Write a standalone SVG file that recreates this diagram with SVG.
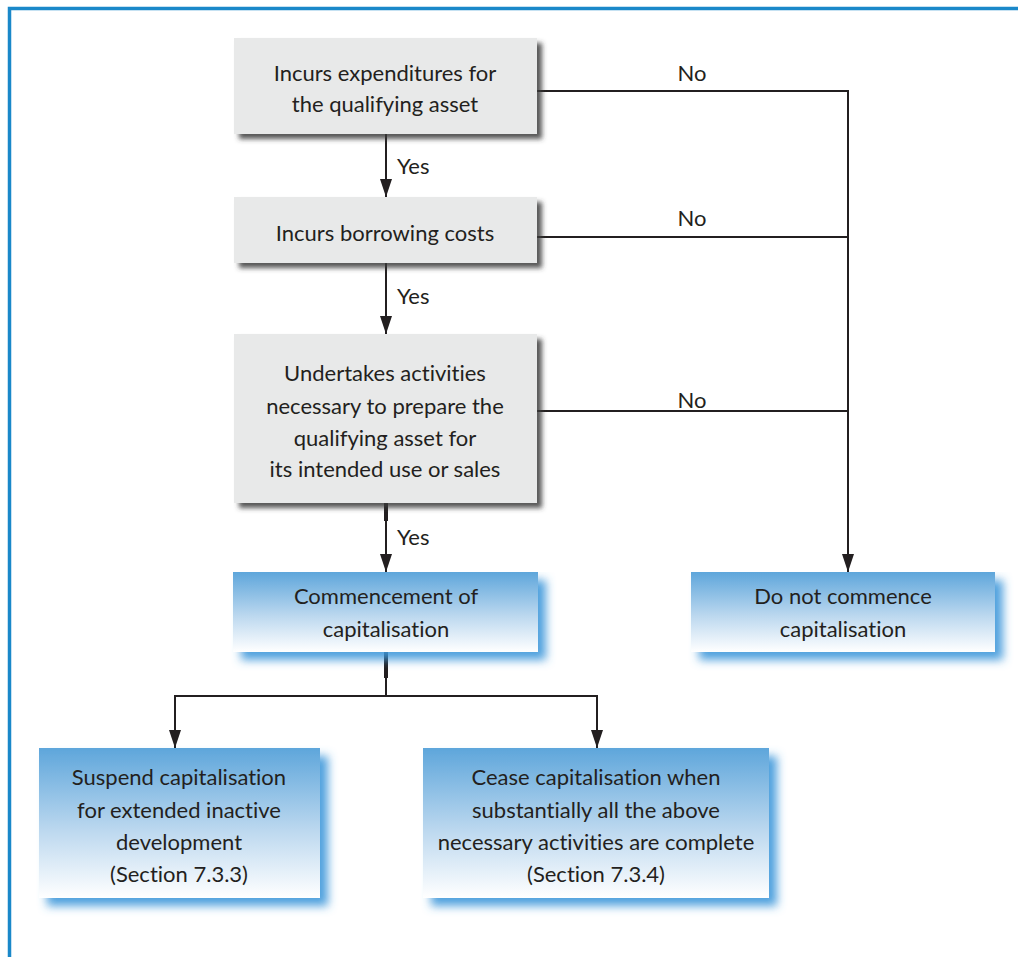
<svg xmlns="http://www.w3.org/2000/svg" width="1018" height="957" viewBox="0 0 1018 957">
<defs>
<linearGradient id="blueGrad" x1="0" y1="0" x2="0" y2="1">
<stop offset="0" stop-color="#5ea6db"/>
<stop offset="0.55" stop-color="#bcd8ef"/>
<stop offset="1" stop-color="#ffffff"/>
</linearGradient>
<filter id="grayShadow" x="-10%" y="-10%" width="130%" height="140%">
<feGaussianBlur in="SourceAlpha" stdDeviation="2.5"/>
<feOffset dx="5" dy="5" result="b"/>
<feFlood flood-color="#3a3a3a" flood-opacity="0.85"/>
<feComposite in2="b" operator="in"/>
<feMerge><feMergeNode/><feMergeNode in="SourceGraphic"/></feMerge>
</filter>
<filter id="blueShadow" x="-10%" y="-10%" width="130%" height="150%">
<feGaussianBlur in="SourceAlpha" stdDeviation="5"/>
<feOffset dx="8" dy="8" result="b"/>
<feFlood flood-color="#3d97da" flood-opacity="0.9"/>
<feComposite in2="b" operator="in"/>
<feMerge><feMergeNode/><feMergeNode in="SourceGraphic"/></feMerge>
</filter>
<marker id="arrow" markerWidth="18" markerHeight="12" refX="18" refY="6" orient="auto-start-reverse" markerUnits="userSpaceOnUse" viewBox="0 0 18 12">
<path d="M0 0 L18 6 L0 12 Z" fill="#231f20"/>
</marker>
</defs>
<style>
.txt { font-family: "Lato", "Open Sans", "Liberation Sans", sans-serif; font-size: 22px; fill: #231f20; text-anchor: middle; font-variant-ligatures: none; }
.lbl { font-family: "Lato", "Open Sans", "Liberation Sans", sans-serif; font-size: 22px; fill: #231f20; font-variant-ligatures: none; }
.gray { fill: #e8e9e9; filter: url(#grayShadow); }
.blue { fill: url(#blueGrad); filter: url(#blueShadow); }
.conn { fill: none; stroke: #231f20; stroke-width: 2; }
.thick { fill: none; stroke: #231f20; stroke-width: 4; }
</style>
<rect x="0" y="0" width="1018" height="957" fill="#ffffff"/>
<path d="M9.5 957 V8.5 H1018" fill="none" stroke="#1a88c9" stroke-width="3.5"/>

<g id="connectors">
<line class="conn" x1="386" y1="134" x2="386" y2="197" marker-end="url(#arrow)"/>
<line class="conn" x1="386" y1="263" x2="386" y2="334" marker-end="url(#arrow)"/>
<line class="conn" x1="386" y1="503" x2="386" y2="572" marker-end="url(#arrow)"/>
<line class="thick" x1="386" y1="503" x2="386" y2="521"/>
<path class="conn" d="M537 91 H848 V572" marker-end="url(#arrow)"/>
<line class="conn" x1="537" y1="237" x2="848" y2="237"/>
<line class="conn" x1="537" y1="411" x2="848" y2="411"/>
<line class="conn" x1="386" y1="652" x2="386" y2="696"/>
<line class="thick" x1="386" y1="652" x2="386" y2="678"/>
<path class="conn" d="M175 748 V696 H597 V748" marker-start="url(#arrow)" marker-end="url(#arrow)"/>
<text class="lbl" x="397" y="174">Yes</text>
<text class="lbl" x="397" y="304">Yes</text>
<text class="lbl" x="397" y="545">Yes</text>
<text class="txt" x="692" y="81">No</text>
<text class="txt" x="692" y="226">No</text>
<text class="txt" x="692" y="408">No</text>
</g>

<g id="node-expenditures">
<rect class="gray" x="234" y="38" width="303" height="96"/>
<text class="txt" x="385" y="81">Incurs expenditures for</text>
<text class="txt" x="385" y="112">the qualifying asset</text>
</g>

<g id="node-borrowing">
<rect class="gray" x="234" y="197" width="303" height="66"/>
<text class="txt" x="385" y="241">Incurs borrowing costs</text>
</g>

<g id="node-activities">
<rect class="gray" x="234" y="334" width="303" height="169"/>
<text class="txt" x="385" y="381">Undertakes activities</text>
<text class="txt" x="385" y="414">necessary to prepare the</text>
<text class="txt" x="385" y="446">qualifying asset for</text>
<text class="txt" x="385" y="477">its intended use or sales</text>
</g>

<g id="node-commencement">
<rect class="blue" x="233" y="572" width="305" height="80"/>
<text class="txt" x="386" y="604">Commencement of</text>
<text class="txt" x="386" y="637">capitalisation</text>
</g>

<g id="node-donot">
<rect class="blue" x="691" y="572" width="304" height="80"/>
<text class="txt" x="843" y="604">Do not commence</text>
<text class="txt" x="843" y="637">capitalisation</text>
</g>

<g id="node-suspend">
<rect class="blue" x="39" y="748" width="281" height="150"/>
<text class="txt" x="179" y="785">Suspend capitalisation</text>
<text class="txt" x="179" y="818">for extended inactive</text>
<text class="txt" x="179" y="850">development</text>
<text class="txt" x="179" y="882">(Section 7.3.3)</text>
</g>

<g id="node-cease">
<rect class="blue" x="423" y="748" width="346" height="150"/>
<text class="txt" x="596" y="785">Cease capitalisation when</text>
<text class="txt" x="596" y="818">substantially all the above</text>
<text class="txt" x="596" y="850">necessary activities are complete</text>
<text class="txt" x="596" y="882">(Section 7.3.4)</text>
</g>
</svg>
